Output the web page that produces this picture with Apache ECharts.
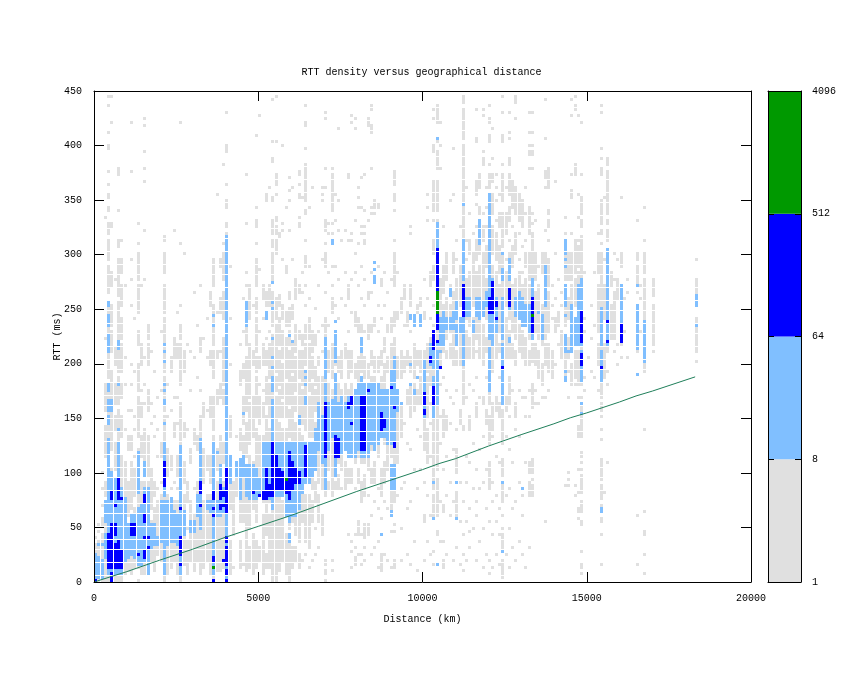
<!DOCTYPE html>
<html><head><meta charset="utf-8">
<style>html,body{margin:0;padding:0;background:#fff}#c{width:845px;height:673px}</style>
<script src="https://cdn.jsdelivr.net/npm/echarts@6/dist/echarts.min.js"></script>
</head><body><div id="c"></div>
<script>
// Column key = distance / 100 km, row key = RTT / 3 ms. Entries: "columns:rows rows ..."
const BIN_KM = 100, BIN_MS = 3;
const greyCells = [
"0:0-11 13","1:0-12 15 17","2:0-14 17-19 23 28 33","3:0-10 12-24 26-30 38-47 52-60 74 111","4:0-30 32-47 49-60 62-70 72-85 88-96 98-104 106-109 113 114 117 118 121 125 132 133 137 145 148","5:0-22 26-34 40-52 55-64 70-76 78-84 90-94 108 109 140 148",
"6:0-8 10-30 34-42 46-50 54-60 66-71 92","7:0-24 26-52 54-62 64-71 73-85 87-98 102-104 113 124-126","8:0-20 24-38 44-50 56-60 64-72 74-80 84-90 94-98 104","9:2-18 24-36 46 60 68 90","10:3-16 20-30 40-44 52","11:2-18 22-36 40-44 52 60 66 84 92 98 125 140","12:4-22 26-34 38 46 50 64 80",
"13:0 4-26 30-40 44-56 58-66 72-76 82-90 92-100 103 109","14:2-20 24-30 38-44 50-54 58 66-72 90","15:2-30 34-46 54 60 68 92 107 122 126 131 139 141","16:2-30 32-44 52-58 66-72 74-78","17:6-18 22-34 48 54 70","18:3-22 26-30 44 50 64","19:8-24 28 38 46 56","20:6-26 30 38-42 58 76",
"21:0-22 24-50 52-62 64-80 82-90 94-100 104 105","22:2-26 32-40 50 60","23:4-24 28 34-38 52 64-68","24:6-24 30 44-48 56 68-74 107","25:2-24 28 32-38 48 56 68-72 82","26:0-30 34-54 60-72 74-78 84 103 140","27:5-26 30-36 44-48 64-70 100","28:2-12 16 24-30 46 72","29:6-24 36-40 58 70","30:3-20 28 42-46 68 88","31:6-30 40-44 62 78",
"32:2-32 36-50 58 70-74 90","33:4-24 30-40 50-54 74","34:6-26 34-38 52 68 80","35:2-26 30-38 50-56 66-70 84-88","36:0-44 46-56 62-70 72-84 90-98","37:3-30 34-40 54-58 68-70 82 118","38:3-22 26-44 56-60 70 82-86 96-98","39:4-30 36-42 54-58 60-74 80-88 92-100 103 127",
"40:0-100 105 106 108 109 114-116 121 131-133 143","41:2-12 22-32 44-50 66 80 96","42:4 14-30","43:26-34 44","44:4-12 18-34 40-46 60-64 72","45:5 18-44 48-56 62-66 76 86","46:3-34 38-48 52-68 72-80 90 94 109 124","47:4-10 16-38 42-54 56-72 80-90","48:2-14 22-36 44-56 66-70 84","49:4-12 18-46 50-62 64-68 70-80 82-86 90-98 103 108-110 114 136","50:6-10 26-44 48-56 60 65-68 76 95 142","51:2-20 24-44 50-54 58 66-72 80 86-90","52:4-8 14-34 38-50 54-62 66-70 74 84-88 116-118",
"53:4-20 24-46 50-60 62-72 76 84-90 120","54:0-36 38-75 78-88 92-100 102-104 106-110 116 117 128 129 134 147","55:0-34 36-56 58-62 64-78 80-86 100-104 106-108 110 111 118 121-124 134 148 149","56:3-30 34-48 50-58 60-70 72-80 84-87 105 106","57:6-24 28-46 50-54 56-66 68-76 80-84 98 107 109 133","58:2-14 20-46 50-60 62-74 78-82 94-96 114","59:0-12 16-40 44-52 54-70 72-76 78-83 86-88 107 116 119 123","60:4-10 18-34 40-62 64-72 80-84 98 120","61:6-10 14-26 30-48 52-56 58-68 70-78 86-92","62:4-8 12-28 34-46 50-60 62-70 74-76 88-90 108 109 111 117 118 121 124 125","63:6 18-30 34-44 48-58 60-70 72-75 88 94 117",
"64:8 12-26 30-42 46-64 66-72 74-78 84 90 96-99 104 112 113 116-127 132 139 140 145 149","65:4 10-26 34-40 44-56 58-72 74-80 86 96 114","66:6 18-24 28-36 44-60 62-68 70-76 120","67:8 16 24-30 36-48 52-58 60-65 72-75 83","68:10 18-26 30-40 46-62 66-68 76 90","69:14-20 28-40 50-62 70 78 98 116 118 120","70:0 2 3 5 6 26-58 60-70 74-80 88 96-100 103 107-110 120 126 141 143 149","71:28-30 34-60 64-70 78 94 106 109","72:3 6 26-58 62-72 82-86 90 96 106 109 113-124 126","73:28-30 34-62 66-72 84 96 110 118","74:28-32 36-60 64-68 80 92 107 116 138","75:28 34-58 62-70 86 104","76:28-36 40-60 68-72 84 94 107","77:14 30-34 38-58 62-70 76 86-90 104 123 124","78:4 9 12 30-34 38-60 64-70 82 92 104 106 140 142","79:5-7 10 14 28 36-58 62-66 78-82 94 100 110 138 141",
"80:8 14-18 30-34 38-58 60-68 76-80 90 103 114 117 120","81:5 8 14 24-30 36-62 64-70 76-78 86 96 106 108 114 123","82:6 10 13-17 26-32 36-60 62-68 76 84 92 103 104 106 108 113 124","83:14-17 26 34-60 62-66 74-78 86-88 110 139-141","84:8 20 30-34 40-62 66-70 76-78 88 94 112 114 126 137-139 144 145","85:10 24 30-36 44-62 64-68 78-80 92 112 114-116","86:4 12 22 28 38-60 64-68 76 84 96 114 115","87:3-8 14 19 26-34 44-62 66-70 80 90-92","88:8 24 30-36 42-66 70-74 84 94","89:6 22 34-58 64-68 76-78 88",
"90:4 15 20-34 38-54 58-72 76-80 92","91:4-6 15 17 24-58 60-74 78-82 90-100 104 113 116-118 121-125","92:26 36-52 62-68 80-82 94","93:6 16 28 44-54 62-70 82-86","94:30 48 64-68 78 86-90","95:8 22 42 54-58 66-70 78-82","96:5 24 40 50-60 64-68 76 84-90 106 108","97:12 34 52-60 62-72 78","98:3 28 46 54-58 66-70 82-84","99:34 44 54-62 64-70 84-86","100:6 18-20 30 40-54 56-70 80-82 92","101:12 26 36-46 50-62 64-72 86 110 114 118","102:8 20 38 48 54 60-74 80 90-94","103:5 9 20-26 28-54 56-76 78 84 92-96 100-104 110 113-122 131-133 141 144","104:5 14 15 20-31 34-54 60-78 84-96 98-104 110 113-122 126-131 134 140-145 149",
"105:12 24 42 50 60 66-76 80-92 126 133 140","106:4-6 12 21-23 34 44-52 62 70-84 88-96 108","107:8 26 38 46-50 58 68-70 74-86 92-100","108:20 30 48 56 68-72 76-84 90 116","109:6 24 40 54 66-88 94-100 118 132","110:10 20-27 33-40 46 58 66-70 74-92 98 104","111:5 18 30 48-52 66-80 84-96 108","112:3 8 14 24 46 47 54-66 68-100 103-114 116-133 135-144 146-149","113:6 18 30 38 56 68-76 80-92 98 104 120","114:10 15 22 36 46-50 60 68-74 78-94 100-104 112","115:16 28 42 58 68-80 84-100 106","116:6 20 24 34 50-54 62 70 74-94 98-104 108 115 118-122 134 135 144 149","117:12 28 40 56 68-80 84-96 100-106 112-114 120-124","118:4 16 30 44 54-56 66-78 82-100 104-108 112 127-129 131 142 144 150",
"119:8 22 34 48-52 62 70-74 80-92 96-102 108 114 120","120:2 6 18 28-36 42-50 54-64 68-100 104-116 120-124 127 134-136 140 141 145","121:4 14 24 30 44 46-54 64-76 80-96 100-108 112-118 122-124 129 138","122:8 18 26 38 52-56 68-78 84-94 98-106 110 116 120 124","123:5 14 22 36 50-54 62 70-72 76-90 94-102 108-112 118","124:1-6 10-14 16 20 24-29 32-37 42-52 54-100 102-112 116-124 127 134-136 143 148","125:8 26 44 52-56 68-80 84-94 98 106-112 120","126:4 16 28 40 50 54-62 68-76 80-100 104 110-114 118-124 127-129 135 137 143 149","127:10 22 36 58 68-72 76-90 96-102 108 114-122","128:6 24 46 50-54 66-70 74-92 100-106 112-120 141 146-149","129:12 30 44 58 70-78 82-94 98 106 110-118","130:8 20 26 56 68-76 78-90 94 102 108-116","131:4 36 50 56 66-74 78-92 96-100 104 112 120","132:10 26-30 33-36 50 58 66-70 74-90 92-100 106-114 126 130 131 133 137 143",
"133:26-29 31 33-37 53 54-60 67-72 74-90 92-103 104-106 109 112 126 130 131 133 137 143","134:54 58 66-72 76-88 92-100 110","135:54 62-70 74-90 96","136:56 60-66 72-84 94-100","137:18 56 66-72 74-90 92-100 107 120 123-125 135 147","138:58 64-72 76-88 90-98 104 108-110 112 113 120-122 123-126","139:62-70 80 84 90","140:66 76-80 86 100 122","141:72 78-82 92","142:68-76 84 88","143:29 62-72 78-90 92-103 104 106 111","144:29 31 33 56 64 68-74 80-86 92-100","145:60-66 70-76 82-90 92-100 106 117-119 124 142 147","146:26 29 60 62-70 72-80 84-92 94-102 103 104 124-127 144 145 148","147:19 21 22 27 34 44-47 56 60-70 72-84 86-94 96-102 104 111 118 142","148:2 4 5 9 17 18 21-24 27-32 34 36 38 39 44-50 52-54 56 60-72 74-90 92-103 104 105 108-110 112-117 124 140",
"149:58 62 76 80 94","150:68","151:64 74 84","152:62 78 94","153:58 66-72 76-90 94-100 106","154:5 14 18 19 21-23 25-29 31-37 43 46 50 52-54 56-72 74-100 103 106 107 109-116 124-126 129 132 143 145","155:27 62-72 80-90 98 117","156:36 60 64 70-78 80-88 92-98 104-107 109 110 112-119 120-125 127-129","157:74-84 90-94","158:70 74-88 92 100","159:66 72 86-92 98","160:68 72-78 84-90 96-100 117","161:76 86","162:68 88 92","165:5 20 70-84 88 90-96 98-100 110","166:76 86 90","167:2 8 14 15 21 46 64-72 74-92 94-100 104 114","170:70 72-84 87-92","183:67 70-80 86-92 98"
];
const lightCells = [
"0:1-8","1:1-7 11","2:1-6 11","3:7-14 18-24","4:2-42 43 48-50 52-55 58 59 60 70-75 78-81 84 85","5:2-33 52-55","6:2-31","7:2-42 46 60 71-73","8:2-28","9:6-25","10:7-17","11:8-20","12:7-20","13:5-22 27-39","14:5-23","15:6-28 32-36","16:2-28","17:10-17","18:11-17","19:11-13","20:12-24","21:2-24 26-42 48 54 55 58 60 67 70 72","22:11-24","23:12-25","24:12-21","25:11-20","26:2-41","27:14-21","29:15-18","30:15-18","31:20-26","32:16-43","34:22-24","35:21-24","36:2-42 78 81","37:20-24 39","38:20-35","39:21-28","40:0-105","41:30-38","43:32-36","44:25-37","45:32-38 51","46:26-35 78-85","47:25-35","48:25-35","49:25-34","50:26-31","51:25-42","52:25-42 80-82","53:25-42","54:22-55 58-62 65 68 74 83 85 91","55:26-42","56:26-42","57:26-42","58:20-42","59:12-14 18-42 75","60:20-42 73","61:20-42","62:22-42 48-50","63:27-42","64:30-42 54-56 60 62 64","65:30-42","66:32-42","67:34-46",
"68:40-54","69:36-50","70:28-54 55-60 62-74","71:40-54","72:44-55 103 104","73:32-40 41-63 67-75 76 79","74:38-54","75:39-56","76:40-54","77:38-56","78:38-56","79:38-58","80:40-60","81:38-62 70-74","82:38-60","83:38-60","84:42-60","85:40-60 91-93 95 97","86:42-60","87:14 44-58","88:44-58","89:42-58","90:20 21 28-35 42-64","91:28-35 41-68","92:52-58","93:54","96:60 66 80 81","97:57 58 78-81","98:62","99:78-81","100:50-67","102:66-72","103:19 30 50-62 65-73","104:5 54-70 72 88 101-109 135","105:70 72-80","106:72-82","107:77-80","108:77-80 87-89","109:77-82","110:19 30 72-78 80-85","111:76-80","112:66-84 89 92-104 115","113:81-86","114:81-86","115:76-79","116:81-86","117:80-86 103-110","118:81-85","119:84-88","120:58-71 74-118","121:72-92","122:76-86","124:9 30 54-72 74-86 92-95 100","126:73 74 83-87 92-98","128:81-86","129:80-88","130:28 78-86","131:78-84","132:76-84",
"133:74-92","135:82","136:74-81","137:84-96","143:61 62 64 70-75 81 84-90 96 98 100-104","144:70","145:70-84","146:72-80","147:72-90","148:51 54 61-70 72-92","154:21 22 61-70 72-83","156:72-101","160:74-90","165:63 71-84 90","167:67-79","183:78 84-87"
];
const blueCells = [
"0:0","4:4-14","5:0-2 4-6 7-17 25-27","6:4-11 14-17 23","7:4-12 25-31","8:4-9 25","11:14-17","12:14-17","13:8","15:7-9 13 18-20 24-26","16:10 13","21:29-36","26:5 8-13 22","32:23 27-30","36:0 6 7 20 22 25-27","38:22 23 25-29","39:6 23 26 27","40:0 2 3 5-10 12 13 21-34","48:27","50:26","51:25-27","52:25-34","53:26-29","54:26-42","55:28-38","56:28-34","57:28-33","58:27-30","59:25-39","60:28-36","61:30-34","62:30-33","64:32-41","70:38-54","73:38-44","74:38-43","77:53 54","78:48 54-56","81:40-56","82:40-56","83:58","87:46-51","88:47-49","90:59","91:41 42 53","100:51 52 54-57","102:67 68","103:54-59 71-76","104:73 77-81 88-101","105:65","112:81-90","120:82-86","121:82-91","122:80 84 85","126:84-89","133:76-80 82-86","148:66-69 73-82","154:65","156:73 79","160:73-78","124:65"
];
const greenCells = ["36:4","58:31","104:82-88","133:81"];
// Great-circle reference line (km, ms)
const lineKm = [0,1000,2000,3000,4000,5000,6000,7000,8000,9000,10000,10500,11000,12000,13000,14000,14500,15000,16000,16500,17000,18300];
const lineMs = [0,9.5,20,30,41,51,61,72,83,93,103,108.5,113,124.5,135,145,150.5,155,165,170.5,175,188];
// Colour scale
const levelColors = ["#e0e0e0","#80bfff","#0000ff","#009900"];
const scaleEdges = [1,8,64,512,4096];
const xTicks = {min:0,max:20000,interval:5000};
const yTicks = {min:0,max:450,interval:50};
const chartTitle = "RTT density versus geographical distance";

function expand(list, level, grid){
  list.forEach(s=>{
    const [cols,rows]=s.split(":");
    const [c0,c1]=cols.split("-").map(Number);
    rows.trim().split(/\s+/).forEach(t=>{
      const [a,b]=t.split("-").map(Number);
      for(let c=c0;c<=(c1===undefined?c0:c1);c++)
        for(let r=a;r<=(b===undefined?a:b);r++)
          grid.set(c+"_"+r,[c*BIN_KM,r*BIN_MS,level]);
    });
  });
}
const grid=new Map();
[greyCells,lightCells,blueCells,greenCells].forEach((l,i)=>expand(l,i,grid));
const cells=[...grid.values()].filter(d=>d[1]<447);
const FONT="Liberation Mono";
const labelStyle={fontFamily:FONT,fontSize:10,color:"#000"};
const plain=v=>String(Math.round(v));
const chart=echarts.init(document.getElementById("c"),null,{renderer:"canvas"});
const G={left:94,top:91,width:657,height:491};
const B={left:768,top:91,width:33,height:491};
const axLine={show:true,onZero:false,lineStyle:{color:"#000",width:1}};
const tick=(len)=>({show:true,inside:true,length:len,lineStyle:{color:"#000",width:1}});
const AZ=10;
chart.setOption({
  animation:false,backgroundColor:"#fff",
  title:{text:chartTitle,left:416.5,top:62,textAlign:"center",textStyle:{fontFamily:FONT,fontSize:10,fontWeight:"normal",color:"#000"}},
  grid:[Object.assign({show:false},G),Object.assign({show:false},B)],
  xAxis:[
   Object.assign({z:AZ,type:"value",gridIndex:0,position:"bottom",name:"Distance (km)",nameLocation:"middle",nameGap:32,nameTextStyle:labelStyle,axisLine:axLine,axisTick:tick(10),axisLabel:Object.assign({margin:11,formatter:plain},labelStyle),splitLine:{show:false}},xTicks),
   Object.assign({z:AZ,type:"value",gridIndex:0,position:"top",axisLine:axLine,axisTick:tick(10),axisLabel:{show:false},splitLine:{show:false}},xTicks),
   {z:AZ,type:"value",gridIndex:1,min:0,max:1,position:"top",axisLine:axLine,axisTick:{show:false},axisLabel:{show:false},splitLine:{show:false}},
   {z:AZ,type:"value",gridIndex:1,min:0,max:1,position:"bottom",axisLine:axLine,axisTick:{show:false},axisLabel:{show:false},splitLine:{show:false}}
  ],
  yAxis:[
   Object.assign({z:AZ,type:"value",gridIndex:0,position:"left",name:"RTT (ms)",nameLocation:"middle",nameGap:32,nameMoveOverlap:false,nameRotate:90,nameTextStyle:labelStyle,axisLine:axLine,axisTick:tick(10),axisLabel:Object.assign({margin:12,formatter:plain},labelStyle),splitLine:{show:false}},yTicks),
   Object.assign({z:AZ,type:"value",gridIndex:0,position:"right",axisLine:axLine,axisTick:tick(10),axisLabel:{show:false},splitLine:{show:false}},yTicks),
   {z:AZ,type:"log",logBase:8,gridIndex:1,min:1,max:4096,position:"right",axisLine:axLine,axisTick:tick(6),axisLabel:Object.assign({margin:11,formatter:plain},labelStyle),splitLine:{show:false}},
   {z:AZ,type:"log",logBase:8,gridIndex:1,min:1,max:4096,position:"left",axisLine:axLine,axisTick:tick(6),axisLabel:{show:false},splitLine:{show:false}}
  ],
  series:[
   {type:"custom",xAxisIndex:0,yAxisIndex:0,clip:true,z:2,silent:true,data:cells,encode:{x:0,y:1},
    renderItem:(p,api)=>{
      const a=api.coord([api.value(0),api.value(1)]);
      return {type:"rect",shape:{x:Math.round(a[0]),y:Math.round(a[1])-3,width:3,height:3},style:{fill:levelColors[api.value(2)]}};
    }},
   {type:"line",xAxisIndex:0,yAxisIndex:0,z:3,silent:true,showSymbol:false,symbol:"none",data:lineKm.map((k,i)=>[k,lineMs[i]]),lineStyle:{color:"#1f7f5a",width:1}},
   {type:"custom",xAxisIndex:2,yAxisIndex:2,z:2,silent:true,data:levelColors.map((c,i)=>[i]),encode:{x:-1,y:-1},
    renderItem:(p,api)=>{
      const i=api.value(0);
      const a=api.coord([0,scaleEdges[i]]),b=api.coord([1,scaleEdges[i+1]]);
      return {type:"rect",shape:{x:a[0],y:b[1],width:b[0]-a[0],height:a[1]-b[1]},style:{fill:levelColors[i]}};
    }}
  ]
});
</script></body></html>
